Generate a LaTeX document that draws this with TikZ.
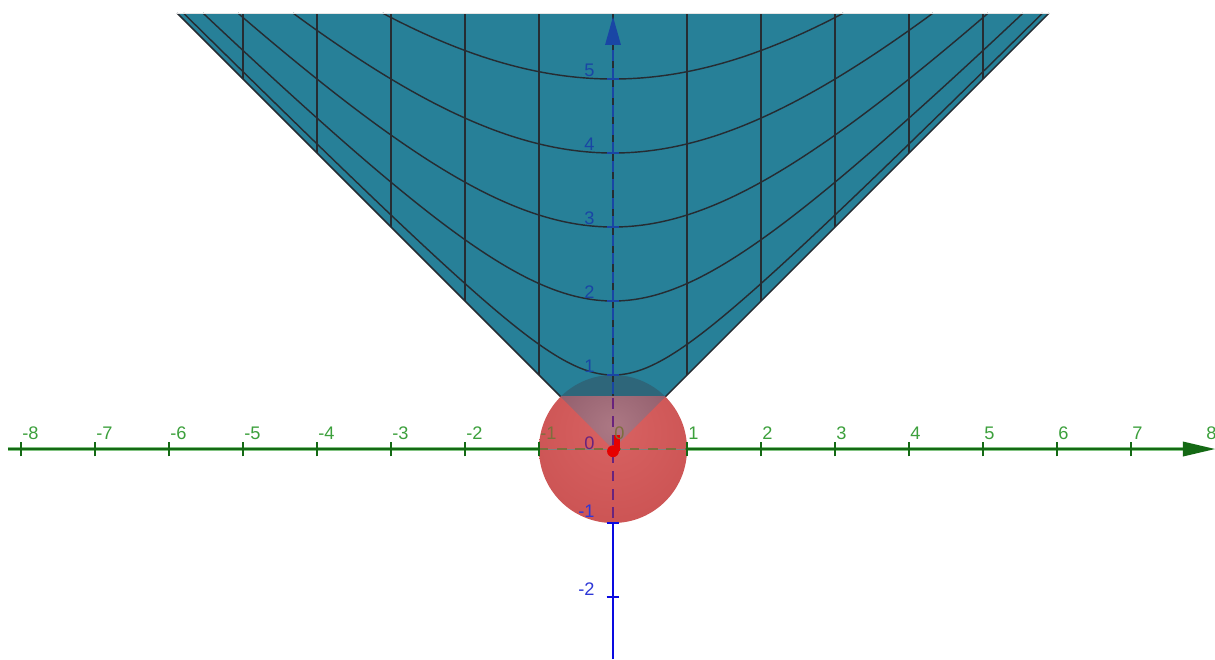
\documentclass[tikz,border=0pt]{standalone}
\usepackage{fontspec}
\setmainfont{Liberation Sans}
\definecolor{conec}{RGB}{39,128,152}
\definecolor{capc}{RGB}{46,102,122}
\definecolor{gridc}{RGB}{38,44,50}
\definecolor{sph1}{RGB}{216,98,98}
\definecolor{sph2}{RGB}{204,84,84}
\definecolor{sph3}{RGB}{160,64,68}
\definecolor{mv1}{RGB}{172,120,132}
\definecolor{mv2}{RGB}{148,96,110}
\definecolor{mv3}{RGB}{120,78,94}
\definecolor{xaxc}{RGB}{20,105,20}
\definecolor{xhalo}{RGB}{130,195,130}
\definecolor{xlab}{RGB}{60,160,60}
\definecolor{xhid}{RGB}{125,110,60}
\definecolor{zaxc}{RGB}{10,10,225}
\definecolor{zlab}{RGB}{45,55,215}
\definecolor{zhid}{RGB}{25,70,165}
\definecolor{zsph}{RGB}{105,35,125}
\definecolor{ptred}{RGB}{230,0,0}
\pgfdeclareradialshading{sphshade}{\pgfpoint{0bp}{8bp}}{color(0bp)=(sph1); color(30bp)=(sph2); color(58bp)=(sph3)}
\pgfdeclareradialshading{mvshade}{\pgfpoint{0bp}{8bp}}{color(0bp)=(mv1); color(22bp)=(mv2); color(45bp)=(mv3)}
\tikzset{
  gridline/.style={draw=gridc, line width=0.55pt},
  xaxis/.style={draw=xaxc, line width=0.8pt},
  xaxhalo/.style={draw=xhalo, line width=1.7pt},
  xtickmark/.style={draw=xaxc, line width=0.9pt},
  zaxis/.style={draw=zaxc, line width=1.1pt},
  xl/.style={text=xlab, inner sep=0pt, anchor=base west, font=\fontsize{7}{8}\selectfont},
  zl/.style={text=zlab, inner sep=0pt, anchor=base east, font=\fontsize{7}{8}\selectfont},
}
\begin{document}
\begin{tikzpicture}
\useasboundingbox[fill=white] (-8.284,-2.838) rectangle (8.135,6.068);
% cone
\fill[conec] (-5.89,5.89) -- (0,0) -- (5.89,5.89) -- cycle;
% sphere cap seen through the cone
\begin{scope}
  \clip (-1.1,0.7071) rectangle (1.1,1.1);
  \fill[capc] (0,0) circle (1);
\end{scope}
% grid on the cone
\foreach \k in {1,...,5}{
  \draw[gridline] (\k,\k) -- (\k,5.89);
  \draw[gridline] (-\k,\k) -- (-\k,5.89);
}
\draw[gridline] (0,0.7071) -- (0,5.89);
\foreach \c in {1,...,5}{
  \pgfmathsetmacro\xm{sqrt(5.89*5.89-\c*\c)}
  \draw[gridline] plot[domain=-\xm:\xm, samples=90, smooth] (\x,{sqrt(\x*\x+\c*\c)});
}
\draw[gridline] (-5.89,5.89) -- (0,0) -- (5.89,5.89);
\draw[white!80!gray, line width=0.3pt] (-5.89,5.89) -- (5.89,5.89);
% sphere, lower part in front of the cone
\begin{scope}
  \clip (-1.1,-1.1) rectangle (1.1,0.7071);
  \shade[shading=sphshade] (0,0) circle (1);
\end{scope}
\begin{scope}
  \clip (-1.1,-1.1) rectangle (1.1,0.7071);
  \clip (-1.2,1.2) -- (0,0) -- (1.2,1.2) -- cycle;
  \shade[shading=mvshade] (0,0) circle (1);
\end{scope}
% x axis
\draw[xaxhalo] (-8.176,0) -- (-1,0);
\draw[xaxhalo] (1,0) -- (7.72,0);
\draw[xaxis] (-8.176,0) -- (-1,0);
\draw[xaxis] (1,0) -- (7.72,0);
\draw[gray, line width=0.35pt] (-1,0) -- (1,0);
\draw[xhid, line width=0.9pt, dash pattern=on 3.6pt off 3.4pt] (-1,0) -- (1,0);
\fill[xaxc] (7.70,0.102) -- (8.135,0) -- (7.70,-0.102) -- cycle;
\foreach \k in {-8,...,-1,1,2,...,7}{
  \draw[xtickmark] (\k,-0.1) -- (\k,0.1);
}
% z axis
\draw[zaxis] (0,-2.838) -- (0,-1);
\draw[zaxis] (-0.085,-1) -- (0.085,-1);
\draw[zaxis] (-0.085,-2) -- (0.085,-2);
\draw[zsph, line width=1.1pt, dash pattern=on 4pt off 3pt] (0,-0.93) -- (0,0.7071);
\draw[zhid, line width=0.9pt, dash pattern=on 4.3pt off 2.8pt] (0,0.75) -- (0,5.46);
\foreach \k in {1,...,5}{
  \draw[zhid, line width=0.8pt] (-0.08,\k) -- (0.08,\k);
}
\fill[zhid] (-0.108,5.46) -- (0,5.842) -- (0.108,5.46) -- cycle;
% origin point
\fill[ptred] (0.014,-0.02) rectangle (0.095,0.19);
\fill[ptred] (0,-0.03) circle (0.08);
% x labels
\foreach \k in {-8,...,-2,1,2,...,8}{
  \node[xl] (xl\k) at (\k+0.01,0.135) {\k};
}
\node[xl, text=xhid] (xlm1) at (-0.99,0.135) {-1};
\node[xl, text=xhid] (xl0) at (0.01,0.135) {0};
% z labels
\foreach \k in {1,...,5}{
  \node[zl, text=zhid] (zl\k) at (-0.243,\k+0.04) {\k};
}
\node[zl, text=zsph] (zl0) at (-0.243,0.0) {0};
\node[zl] (zlm1) at (-0.243,-0.93) {-1};
\node[zl] (zlm2) at (-0.243,-1.98) {-2};
\end{tikzpicture}
\end{document}
